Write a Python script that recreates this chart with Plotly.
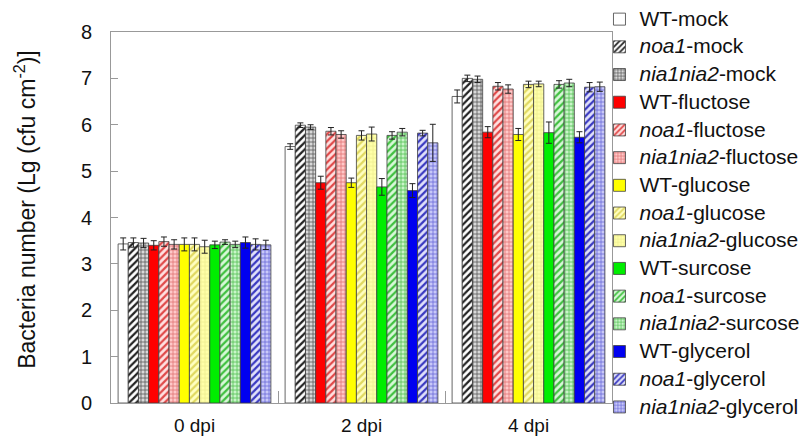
import plotly.graph_objects as go

categories = ["0 dpi", "2 dpi", "4 dpi"]
tick_vals = [0, 1, 2, 3, 4, 5, 6, 7, 8]

series_names = [
    "WT-mock", "<i>noa1</i>-mock", "<i>nia1nia2</i>-mock",
    "WT-fluctose", "<i>noa1</i>-fluctose", "<i>nia1nia2</i>-fluctose",
    "WT-glucose", "<i>noa1</i>-glucose", "<i>nia1nia2</i>-glucose",
    "WT-surcose", "<i>noa1</i>-surcose", "<i>nia1nia2</i>-surcose",
    "WT-glycerol", "<i>noa1</i>-glycerol", "<i>nia1nia2</i>-glycerol",
]
y_title = "Bacteria number (Lg (cfu cm<sup>-2</sup>)]"

wt_mock = [3.43, 5.53, 6.61]
noa1_mock = [3.46, 5.99, 7.00]
nia_mock = [3.45, 5.95, 6.98]
wt_fluc = [3.40, 4.75, 5.84]
noa1_fluc = [3.48, 5.86, 6.83]
nia_fluc = [3.42, 5.79, 6.77]
wt_gluc = [3.42, 4.75, 5.79]
noa1_gluc = [3.42, 5.77, 6.87]
nia_gluc = [3.37, 5.80, 6.88]
wt_surc = [3.41, 4.66, 5.83]
noa1_surc = [3.47, 5.77, 6.87]
nia_surc = [3.42, 5.84, 6.90]
wt_glyc = [3.46, 4.58, 5.73]
noa1_glyc = [3.42, 5.82, 6.81]
nia_glyc = [3.41, 5.61, 6.82]

err_wt_mock = [0.13, 0.06, 0.14]
err_noa1_mock = [0.10, 0.05, 0.07]
err_nia_mock = [0.10, 0.05, 0.07]
err_wt_fluc = [0.10, 0.14, 0.12]
err_noa1_fluc = [0.10, 0.08, 0.08]
err_nia_fluc = [0.10, 0.08, 0.09]
err_wt_gluc = [0.14, 0.10, 0.13]
err_noa1_gluc = [0.14, 0.10, 0.07]
err_nia_gluc = [0.14, 0.15, 0.06]
err_wt_surc = [0.08, 0.18, 0.23]
err_noa1_surc = [0.05, 0.08, 0.08]
err_nia_surc = [0.07, 0.08, 0.08]
err_wt_glyc = [0.12, 0.15, 0.12]
err_noa1_glyc = [0.12, 0.06, 0.10]
err_nia_glyc = [0.10, 0.40, 0.10]

values = [wt_mock, noa1_mock, nia_mock, wt_fluc, noa1_fluc, nia_fluc,
          wt_gluc, noa1_gluc, nia_gluc, wt_surc, noa1_surc, nia_surc,
          wt_glyc, noa1_glyc, nia_glyc]
errors = [err_wt_mock, err_noa1_mock, err_nia_mock, err_wt_fluc, err_noa1_fluc, err_nia_fluc,
          err_wt_gluc, err_noa1_gluc, err_nia_gluc, err_wt_surc, err_noa1_surc, err_nia_surc,
          err_wt_glyc, err_noa1_glyc, err_nia_glyc]

# styles: (fill color, pattern shape, pattern fg, pattern bg)
styles = [
    ("#FFFFFF", "", None, None),
    ("#FFFFFF", "/", "#222222", "#FFFFFF"),
    ("#C8C8C8", "+", "#555555", "#D8D8D8"),
    ("#FF0000", "", None, None),
    ("#FFD8D8", "/", "#E04848", "#FFE0E0"),
    ("#FFC0C0", "+", "#E07070", "#FFC8C8"),
    ("#FFFF00", "", None, None),
    ("#FFFFB0", "/", "#E0D860", "#FFFFC0"),
    ("#FFFF99", "+", "#EEEE90", "#FFFFA8"),
    ("#00EE00", "", None, None),
    ("#D0F5D0", "/", "#40C040", "#D8F8D8"),
    ("#B8EEB8", "+", "#50C050", "#C8F4C8"),
    ("#0000F0", "", None, None),
    ("#D8D8F8", "/", "#3838C0", "#E0E0FA"),
    ("#C0C0F4", "+", "#6868D8", "#C8C8F8"),
]

fig = go.Figure()
for i, (name, vals, errs, st) in enumerate(zip(series_names, values, errors, styles)):
    fill, shape, fg, bg = st
    marker = dict(color=fill, line=dict(color="#404040", width=0.8))
    if shape:
        marker["pattern"] = dict(shape=shape, fgcolor=fg, bgcolor=bg,
                                 size=5 if shape == "/" else 4,
                                 solidity=0.45 if shape == "/" else 0.35,
                                 fillmode="replace")
    fig.add_trace(go.Bar(
        x=categories, y=vals,
        name=f'<span style="font-size:21px">{name}</span>',
        marker=marker,
        legendgroup=f"g{i}",
        error_y=dict(type="data", array=errs, visible=True,
                     color="#222222", thickness=1, width=3),
    ))

fig.add_annotation(
    text=y_title, textangle=-90, xref="paper", yref="paper",
    x=-0.172, y=0.523, xanchor="center", yanchor="middle", showarrow=False,
    font=dict(size=23, color="#111111"),
)

fig.update_layout(
    width=807, height=441,
    margin=dict(l=103, r=203, t=24, b=46, autoexpand=False),
    paper_bgcolor="white", plot_bgcolor="white",
    barmode="group", bargap=0.085, bargroupgap=0,
    font=dict(family="Liberation Sans, Arial, sans-serif", color="#111111"),
    showlegend=True,
    legend=dict(x=0.975, xanchor="left", xref="paper", y=1.082, yanchor="top",
                font=dict(size=17), tracegroupgap=2.6, maxheight=1000,
                itemwidth=30, bgcolor="rgba(0,0,0,0)"),
    xaxis=dict(type="category", showline=True, linecolor="#999999", linewidth=1,
               mirror=True, ticks="inside", tickson="boundaries", ticklen=12,
               tickcolor="#999999", tickfont=dict(size=19), showgrid=False,
               ticklabelstandoff=5, automargin=False),
    yaxis=dict(range=[0, 8], tickvals=tick_vals, showline=True, linecolor="#999999",
               linewidth=1, mirror=True, ticks="inside", ticklen=7, tickcolor="#999999",
               tickfont=dict(size=20), showgrid=False, zeroline=False,
               ticklabelstandoff=14, automargin=False),
)

fig.write_html("out.html")
